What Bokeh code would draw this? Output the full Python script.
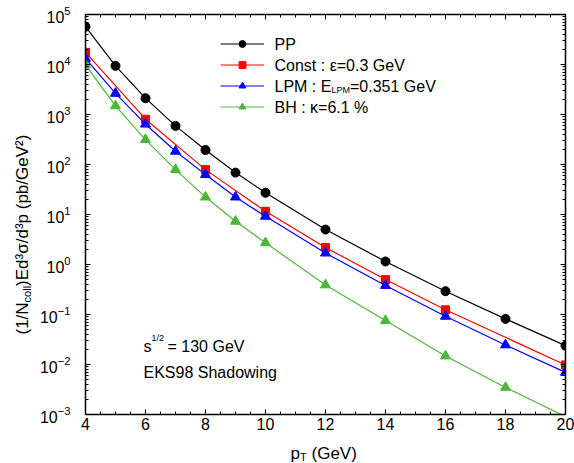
import math
from bokeh.plotting import figure
from bokeh.layouts import row, column
from bokeh.models import (Range1d, LinearAxis, LogAxis, FixedTicker, SingleIntervalTicker,
                          Label, Legend, LegendItem, LogTickFormatter, CustomJSTickFormatter)
from bokeh.embed import file_html
from bokeh.resources import INLINE

# ---- data ----
pt_pp = [4, 5, 6, 7, 8, 9, 10, 12, 14, 16, 18, 20]
pp = [5.7e4, 9.4e3, 2.12e3, 592, 195, 68.9, 27.2, 5.0, 1.15, 0.292, 0.0817, 0.0238]

pt_const = [4, 6, 8, 10, 12, 14, 16, 20]
const = [1.75e4, 805, 79, 11.6, 2.19, 0.50, 0.124, 0.0098]

pt_lpm = [4, 5, 6, 7, 8, 9, 10, 12, 14, 16, 18, 20]
lpm = [1.32e4, 2.64e3, 640, 184, 62.8, 22.3, 9.2, 1.69, 0.38, 0.092, 0.0246, 0.00695]

pt_bh = [4, 5, 6, 7, 8, 9, 10, 12, 14, 16, 18, 20]
bh = [9.8e3, 1.49e3, 315, 79, 22.3, 7.3, 2.72, 0.39, 0.0755, 0.0148, 0.00348, 0.00091]

decades = [-3, -2, -1, 0, 1, 2, 3, 4, 5]

FONT = "Liberation Sans"
GREEN = "#4cb83a"

MAIN_H = 436
YLAB_W = 36

p = figure(frame_width=480, frame_height=400, x_range=Range1d(4, 20), y_range=Range1d(1e-3, 1e5),
           y_axis_type="log", output_backend="svg", toolbar_location=None,
           min_border_left=48, min_border_right=10, min_border_top=14, min_border_bottom=22)
p.xgrid.visible = False
p.ygrid.visible = False
p.outline_line_color = None

y_major = [10.0 ** d for d in decades]
y_minor = [m * 10.0 ** d for d in decades[:-1] for m in range(2, 10)]
yticker = FixedTicker(ticks=y_major, minor_ticks=y_minor)
xticker = SingleIntervalTicker(interval=2, num_minor_ticks=4)

def style(ax, labels=True):
    ax.axis_line_width = 1.5
    ax.axis_line_color = "black"
    ax.major_tick_in = 5
    ax.major_tick_out = 0
    ax.minor_tick_in = 3
    ax.minor_tick_out = 0
    ax.major_tick_line_color = "black"
    ax.minor_tick_line_color = "black"
    ax.major_label_text_font = FONT
    ax.major_label_text_font_size = "16px"
    ax.major_label_text_color = "black"
    if not labels:
        ax.formatter = CustomJSTickFormatter(code="return ''")
        ax.major_label_standoff = 0

p.xaxis.ticker = xticker
p.yaxis.ticker = yticker
p.yaxis.formatter = LogTickFormatter()
style(p.xaxis[0])
style(p.yaxis[0])
p.xaxis.major_label_standoff = 3
p.yaxis.major_label_standoff = 15

top = LinearAxis(ticker=xticker)
style(top, labels=False)
p.add_layout(top, "above")
right = LogAxis(ticker=yticker)
style(right, labels=False)
p.add_layout(right, "right")

# ---- series ----
l_pp = p.line(pt_pp, pp, line_color="black", line_width=1.2)
s_pp = p.scatter(pt_pp, pp, marker="circle", size=9, fill_color="black", line_color="black")
l_c = p.line(pt_const, const, line_color="red", line_width=1.2)
s_c = p.scatter(pt_const, const, marker="square", size=8, fill_color="red", line_color="red")
l_l = p.line(pt_lpm, lpm, line_color="blue", line_width=1.2)
s_l = p.scatter(pt_lpm, lpm, marker="triangle", size=10, fill_color="blue", line_color="blue")
l_b = p.line(pt_bh, bh, line_color=GREEN, line_width=1.2)
s_b = p.scatter(pt_bh[:-1], bh[:-1], marker="triangle", size=10, fill_color=GREEN, line_color=GREEN)

legend = Legend(items=[LegendItem(label=" ", renderers=[l_pp, s_pp]),
                       LegendItem(label=" ", renderers=[l_c, s_c]),
                       LegendItem(label=" ", renderers=[l_l, s_l]),
                       LegendItem(label=" ", renderers=[l_b, s_b])],
                location=(135, 299), glyph_width=44, glyph_height=17, label_height=17,
                spacing=4, padding=0, margin=0, label_text_font_size="8px",
                border_line_color=None, background_fill_alpha=0)
p.add_layout(legend)

# ---- texts (screen units, origin at frame bottom-left) ----
def lab(fig, text, x, y, size, angle=0.0, baseline="alphabetic", align="left"):
    fig.add_layout(Label(x=x, y=y, x_units="screen", y_units="screen", text=text,
                         text_font=FONT, text_font_size=f"{size}px", text_color="black",
                         angle=angle, text_baseline=baseline, text_align=align))

# legend texts
lx = 189
lab(p, "PP", lx, 370.5, 16, baseline="middle")
lab(p, "Const : ε=0.3 GeV", lx, 349.5, 16, baseline="middle")
lab(p, "LPM : E", lx, 328.5, 16, baseline="middle")
lab(p, "LPM", lx + 57, 324.5, 9, baseline="middle")
lab(p, "=0.351 GeV", lx + 75.5, 328.5, 16, baseline="middle")
lab(p, "BH : κ=6.1 %", lx, 307.5, 16, baseline="middle")

# annotation texts
lab(p, "s", 58, 68, 16)
lab(p, "1/2", 66, 76.5, 9)
lab(p, "= 130 GeV", 82, 68, 16)
lab(p, "EKS98 Shadowing", 58, 42.5, 16)

# ---- side panels holding the axis titles ----
def panel(w, h):
    f = figure(width=w, height=h, output_backend="svg", toolbar_location=None,
               x_axis_location=None, y_axis_location=None, min_border=0,
               x_range=Range1d(0, 1), y_range=Range1d(0, 1))
    f.xgrid.visible = False
    f.ygrid.visible = False
    f.outline_line_color = None
    return f

ylab = panel(YLAB_W, MAIN_H)
a = math.pi / 2
lab(ylab, "(1/N", 22, 80, 17, angle=a, baseline="middle")
lab(ylab, "coll", 26.5, 112.1, 11, angle=a, baseline="middle")
lab(ylab, ")Ed³σ/d³p (pb/GeV²)", 22, 128.6, 17, angle=a, baseline="middle")

xlab = panel(574, 463 - MAIN_H)
lab(xlab, "p", 290, 10, 17)
lab(xlab, "T", 299.5, 6.5, 11)
lab(xlab, "(GeV)", 311, 10, 17)

layout = column(row(ylab, p, spacing=0), xlab, spacing=0)
open("out.html", "w").write(file_html(layout, INLINE))
